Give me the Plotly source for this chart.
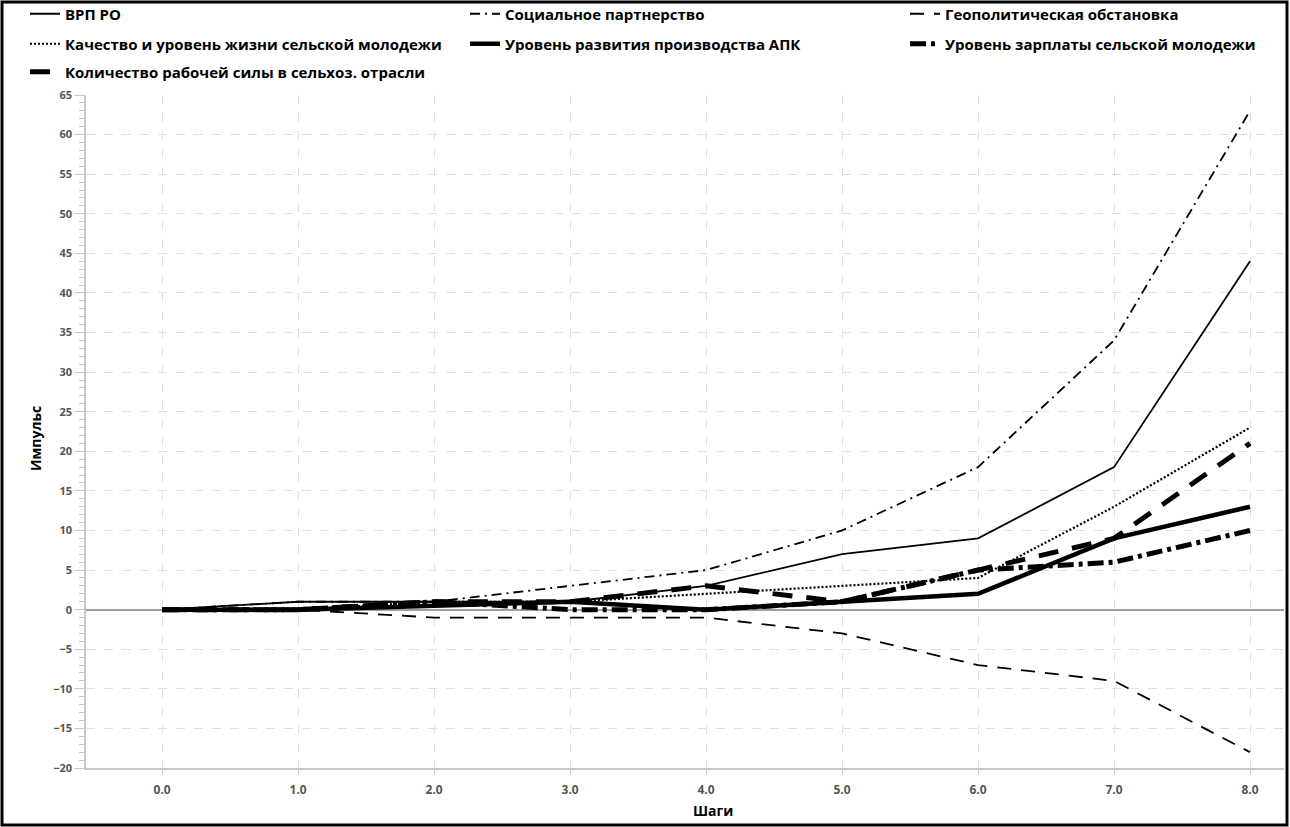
import plotly.graph_objects as go

# Simulation steps and impulse responses of each factor
steps = [0, 1, 2, 3, 4, 5, 6, 7, 8]
vrp = [0, 1, 1, 1, 3, 7, 9, 18, 44]
social = [0, 1, 1, 3, 5, 10, 18, 34, 63]
geo = [0, 0, -1, -1, -1, -3, -7, -9, -18]
quality = [0, 0, 1, 1, 2, 3, 4, 13, 23]
apk = [0, 0, 0.5, 1, 0, 1, 2, 9, 13]
wage = [0, 0, 1, 0, 0, 1, 5, 6, 10]
labour = [0, 0, 1, 1, 3, 1, 5, 9, 21]

names = [
    "ВРП РО",
    "Социальное партнерство",
    "Геополитическая обстановка",
    "Качество и уровень жизни сельской молодежи",
    "Уровень развития производства АПК",
    "Уровень зарплаты сельской молодежи",
    "Количество рабочей силы в сельхоз. отрасли",
]
series = [vrp, social, geo, quality, apk, wage, labour]

styles = [
    dict(width=1.8, dash="solid"),
    dict(width=1.8, dash="10px,5px,2px,5px"),
    dict(width=1.8, dash="14px,10px"),
    dict(width=2.2, dash="2px,2px"),
    dict(width=4.5, dash="solid"),
    dict(width=5, dash="16px,5px,4px,5px"),
    dict(width=5, dash="20px,14px"),
]

# Figure geometry (pixels)
W, H = 1290, 827
L, R, T, B = 86, 6, 95, 59
PW, PH = W - L - R, H - T - B


def px_x(px):
    return (px - L) / PW


def px_y(py):
    return (H - B - py) / PH


legend_spots = [(25, 14), (465, 14), (905, 14), (25, 44), (465, 44), (905, 44), (25, 72)]

fig = go.Figure()
legend_layouts = {}
for i, (name, ys, st) in enumerate(zip(names, series, styles)):
    key = "legend" if i == 0 else f"legend{i + 1}"
    fig.add_trace(go.Scatter(
        x=steps, y=ys, mode="lines", name=name,
        line=dict(color="black", width=st["width"], dash=st["dash"]),
        legend=key,
    ))
    lx, ly = legend_spots[i]
    legend_layouts[key] = dict(
        x=px_x(lx), y=px_y(ly), xanchor="left", yanchor="middle",
        bgcolor="rgba(0,0,0,0)", borderwidth=0,
        font=dict(family="Open Sans", size=15, color="black", weight="bold"),
        itemwidth=30,
    )

fig.update_layout(
    width=W, height=H,
    margin=dict(l=L, r=R, t=T, b=B, autoexpand=False),
    paper_bgcolor="white", plot_bgcolor="white",
    showlegend=True,
    **legend_layouts,
    xaxis=dict(
        range=[-0.56, 8.25], tick0=0, dtick=1, tickformat=".1f",
        showgrid=True, gridcolor="#e0e0e0", griddash="dash", gridwidth=1,
        showline=True, linecolor="#c8c8c8", linewidth=1.5,
        ticks="outside", ticklen=5, tickcolor="#c8c8c8",
        ticklabelstandoff=5,
        zeroline=False,
        tickfont=dict(family="Liberation Sans Narrow, Open Sans", size=12, color="#555", weight="bold"),
    ),
    yaxis=dict(
        range=[-20, 65], tick0=0, dtick=5,
        showgrid=True, gridcolor="#e0e0e0", griddash="dash", gridwidth=1,
        showline=True, linecolor="#c8c8c8", linewidth=1.5,
        ticks="outside", ticklen=10, tickcolor="#c8c8c8",
        zeroline=True, zerolinecolor="#a0a0a0", zerolinewidth=1.5,
        minor=dict(dtick=1, ticks="outside", ticklen=5, tickcolor="#c8c8c8", showgrid=False),
        tickfont=dict(family="Open Sans", size=11, color="#555", weight="bold"),
    ),
    annotations=[
        dict(text="Шаги", x=px_x(713), y=px_y(810), xref="paper", yref="paper",
             showarrow=False, xanchor="center", yanchor="middle",
             font=dict(family="Liberation Sans Narrow, Open Sans", size=14, color="black", weight="bold")),
        dict(text="Импульс", x=px_x(35), y=px_y(438), xref="paper", yref="paper",
             showarrow=False, textangle=-90, xanchor="center", yanchor="middle",
             font=dict(family="Liberation Sans Narrow, Open Sans", size=14, color="black", weight="bold")),
    ],
    shapes=[
        dict(type="rect", xref="paper", yref="paper",
             x0=px_x(2), x1=px_x(1287), y0=px_y(825), y1=px_y(2),
             line=dict(color="black", width=3), fillcolor="rgba(0,0,0,0)", layer="above"),
    ],
)

fig.write_html("out.html")
